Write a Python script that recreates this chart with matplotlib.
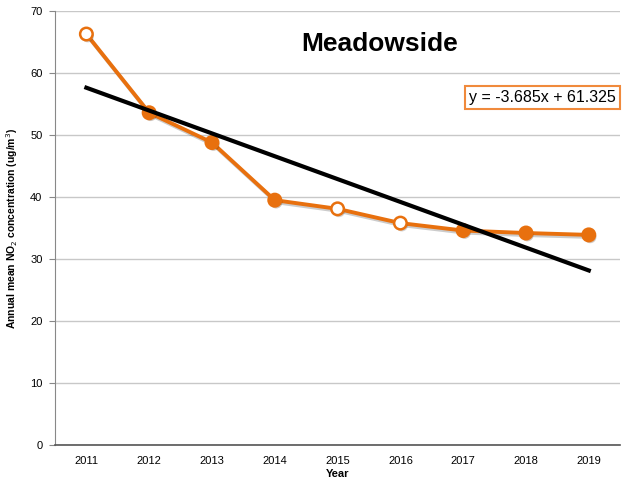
import matplotlib
matplotlib.use("Agg")
import matplotlib.pyplot as plt
import matplotlib.patheffects as pe
import numpy as np

# data
years = ["2011", "2012", "2013", "2014", "2015", "2016", "2017", "2018", "2019"]
no2 = [66.3, 53.6, 48.8, 39.5, 38.1, 35.8, 34.6, 34.2, 33.9]
hollow = [True, False, False, False, True, True, False, False, False]
slope = -3.685
intercept = 61.325

ORANGE = "#E8700E"
plt.rcParams["font.family"] = ["Liberation Sans", "DejaVu Sans"]

fig = plt.figure(figsize=(6.29, 4.87), dpi=100)
ax = fig.add_axes([0.0874, 0.0862, 0.8986, 0.891])

x = np.arange(1, len(years) + 1)
line_shadow = [pe.SimpleLineShadow(offset=(1, -1.5), alpha=0.2), pe.Normal()]
mark_shadow = [pe.SimplePatchShadow(offset=(1, -1.5), alpha=0.25), pe.Normal()]

ax.plot(x, no2, "-", color=ORANGE, lw=2.8, zorder=2, path_effects=line_shadow)
for xi, yi, h in zip(x, no2, hollow):
    ax.plot(xi, yi, "o", ms=9, mew=1.8, mec=ORANGE,
            mfc="white" if h else ORANGE, zorder=3, path_effects=mark_shadow)

trend = slope * x + intercept
ax.plot(x, trend, "-", color="black", lw=3, zorder=4)

ax.set_xlim(0.5, 9.5)
ax.set_ylim(0, 70)
ax.set_xticks(x)
ax.set_xticklabels(years)
ax.set_yticks(np.arange(0, 71, 10))
ax.tick_params(axis="both", labelsize=8, length=0, pad=8)
ax.tick_params(axis="y", length=4, direction="out", color="#888888", pad=5)
ax.grid(True, axis="y", color="#c8c8c8", lw=1)
ax.set_axisbelow(True)
for s in ("top", "right"):
    ax.spines[s].set_visible(False)
ax.spines["left"].set_color("#888888")
ax.spines["bottom"].set_color("#555555")
ax.spines["bottom"].set_linewidth(1.2)

ax.set_xlabel("Year", fontsize=8, fontweight="bold", labelpad=2)
ax.set_ylabel("Annual mean NO$_2$ concentration (ug/m$^3$)", fontsize=7.5,
              fontweight="bold", labelpad=7)

ax.text(0.575, 0.925, "Meadowside", transform=ax.transAxes, ha="center",
        va="center", fontsize=19, fontweight="bold")
ax.text(0.993, 0.8, f"y = {slope}x + {intercept}", transform=ax.transAxes,
        ha="right", va="center", fontsize=11.5,
        bbox=dict(boxstyle="square,pad=0.25", fc="white", ec="#F08A3C", lw=1.5))

fig.savefig("out.png", dpi=100)
